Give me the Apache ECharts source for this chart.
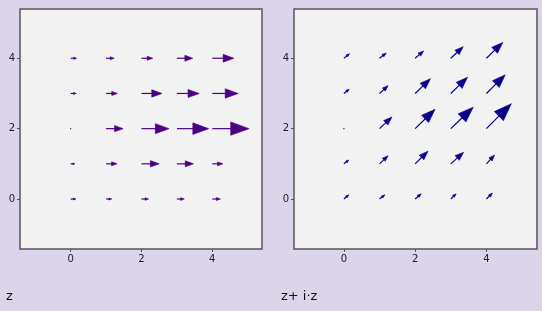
<!DOCTYPE html>
<html>
<head>
<meta charset="utf-8">
<script src="https://cdn.jsdelivr.net/npm/echarts@6/dist/echarts.min.js"></script>
<style>
html,body{margin:0;padding:0;background:#dcd4ea;}
#c{width:542px;height:311px;}
</style>
</head>
<body>
<div id="c"></div>
<script>
// grid positions of arrow tails
const gridX = [0, 1, 2, 3, 4];
const gridY = [0, 1, 2, 3, 4];
const tickValues = [0, 2, 4];
const panelTitles = ['z', 'z+ i·z'];

// left panel (z): horizontal components, one row per gridY
const leftDX = [
  [0.15, 0.16, 0.20, 0.21, 0.23],
  [0.12, 0.31, 0.50, 0.47, 0.30],
  [0.04, 0.48, 0.78, 0.90, 1.04],
  [0.16, 0.32, 0.58, 0.63, 0.73],
  [0.17, 0.23, 0.32, 0.45, 0.61]
];
const leftDY = [
  [0, 0, 0, 0, 0],
  [0, 0, 0, 0, 0],
  [0, 0, 0, 0, 0],
  [0, 0, 0, 0, 0],
  [0, 0, 0, 0, 0]
];

// right panel (z + i·z)
const rightDX = [
  [0.14, 0.15, 0.17, 0.15, 0.17],
  [0.14, 0.24, 0.36, 0.36, 0.23],
  [0.01, 0.35, 0.56, 0.63, 0.70],
  [0.15, 0.24, 0.43, 0.47, 0.53],
  [0.16, 0.19, 0.24, 0.35, 0.46]
];
const rightDY = [
  [0.12, 0.12, 0.15, 0.15, 0.17],
  [0.11, 0.23, 0.36, 0.33, 0.25],
  [0.01, 0.33, 0.55, 0.61, 0.71],
  [0.12, 0.22, 0.42, 0.46, 0.53],
  [0.13, 0.15, 0.21, 0.33, 0.45]
];

function buildData(DX, DY) {
  const out = [];
  gridY.forEach((y, j) => {
    gridX.forEach((x, i) => {
      out.push([x, y, DX[j][i], DY[j][i]]);
    });
  });
  return out;
}

function arrowRender(color) {
  return function (params, api) {
    const x = api.value(0), y = api.value(1), dx = api.value(2), dy = api.value(3);
    const p0 = api.coord([x, y]);
    const p1 = api.coord([x + dx, y + dy]);
    const vx = p1[0] - p0[0], vy = p1[1] - p0[1];
    const L = Math.sqrt(vx * vx + vy * vy);
    if (L < 2) {
      return { type: 'circle', shape: { cx: p0[0], cy: p0[1], r: 0.7 }, style: { fill: color } };
    }
    const ux = vx / L, uy = vy / L;
    const hl = L * 0.5, hw = L / 5.5;
    const bx = p1[0] - ux * hl, by = p1[1] - uy * hl;
    const nx = -uy, ny = ux;
    return {
      type: 'group',
      children: [
        { type: 'line', shape: { x1: p0[0], y1: p0[1], x2: bx + ux * 1, y2: by + uy * 1 },
          style: { stroke: color, lineWidth: 1.2 } },
        { type: 'polygon', shape: { points: [[p1[0], p1[1]], [bx + nx * hw, by + ny * hw], [bx - nx * hw, by - ny * hw]] },
          style: { fill: color, stroke: color, lineWidth: 0.6 } }
      ]
    };
  };
}

function axisCommon(min, max) {
  return {
    type: 'value', min: min, max: max,
    splitLine: { show: false },
    axisLine: { show: false, onZero: false },
    axisTick: { show: true, length: 3, customValues: tickValues, lineStyle: { color: '#555', width: 1 } },
    axisLabel: { customValues: tickValues, fontSize: 10, color: '#222', fontFamily: 'DejaVu Sans', margin: 5 }
  };
}

const chart = echarts.init(document.getElementById('c'));
chart.setOption({
  backgroundColor: '#dcd4ea',
  animation: false,
  grid: [
    { left: 20, top: 9, width: 242, height: 240, show: true, backgroundColor: '#f2f2f2', borderColor: '#555', borderWidth: 1.5 },
    { left: 294, top: 9, width: 243, height: 240, show: true, backgroundColor: '#f2f2f2', borderColor: '#555', borderWidth: 1.5 }
  ],
  xAxis: [
    Object.assign(axisCommon(-1.432, 5.404), { gridIndex: 0, position: 'bottom' }),
    Object.assign(axisCommon(-1.4, 5.42), { gridIndex: 1, position: 'bottom' })
  ],
  yAxis: [
    Object.assign(axisCommon(-1.42, 5.4), { gridIndex: 0, position: 'left' }),
    Object.assign(axisCommon(-1.42, 5.4), { gridIndex: 1, position: 'left' })
  ],
  series: [
    { type: 'custom', xAxisIndex: 0, yAxisIndex: 0, renderItem: arrowRender('#4b0082'),
      data: buildData(leftDX, leftDY), encode: { x: 0, y: 1 }, clip: false },
    { type: 'custom', xAxisIndex: 1, yAxisIndex: 1, renderItem: arrowRender('#0a008c'),
      data: buildData(rightDX, rightDY), encode: { x: 0, y: 1 }, clip: false }
  ],
  graphic: [
    { type: 'text', left: 6, top: 290, style: { text: panelTitles[0], font: '13px "DejaVu Sans"', fill: '#111' } },
    { type: 'text', left: 281, top: 290, style: { text: panelTitles[1], font: '13px "DejaVu Sans"', fill: '#111' } }
  ]
});
</script>
</body>
</html>
